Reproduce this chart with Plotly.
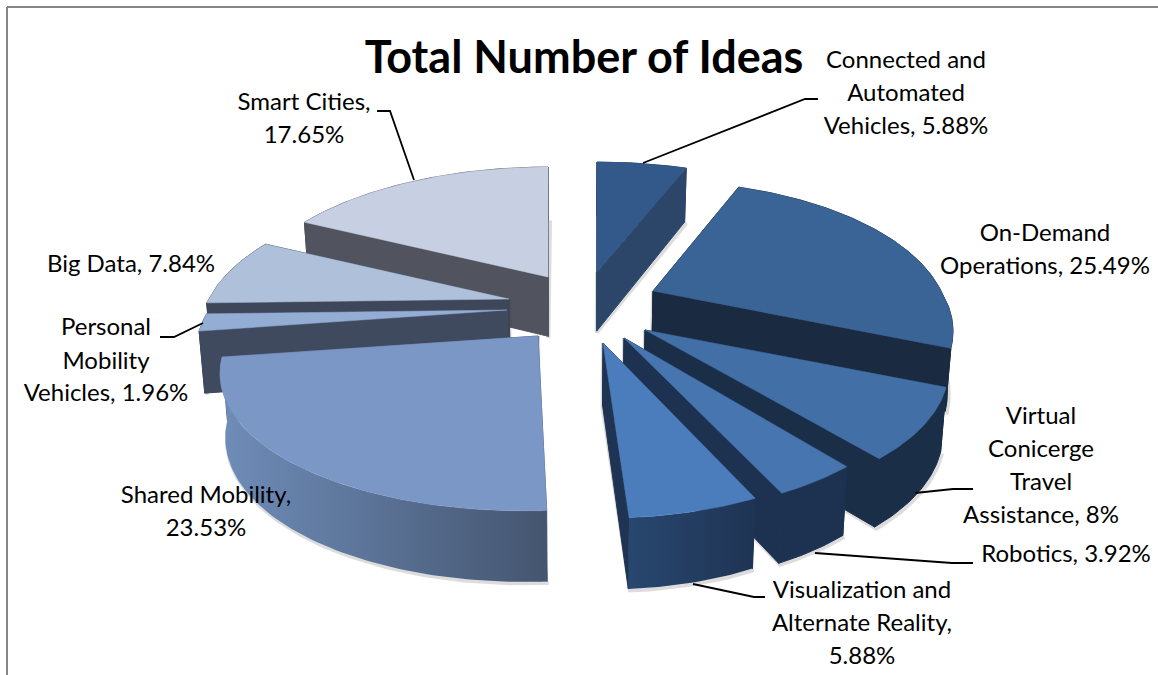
import numpy as np
import plotly.graph_objects as go

# Shares of ideas per topic, clockwise from twelve o'clock
categories = ["Connected and Automated Vehicles", "On-Demand Operations",
              "Virtual Conicerge Travel Assistance", "Robotics",
              "Visualization and Alternate Reality", "Shared Mobility",
              "Personal Mobility Vehicles", "Big Data", "Smart Cities"]
values = [5.88, 25.49, 8, 3.92, 5.88, 23.53, 1.96, 7.84, 17.65]

# Exploded offset of every slice from the pie centre, in pixels
pull_dx = [20, 76, 68, 47, 26, -39, -70, -68, -29]
pull_dy = [-40, -21, 18, 26, 31, 24, -2, -13, -35]
# Horizontal radius of every slice once foreshortened
slice_rx = [300, 288, 292, 283, 283, 307, 298, 300, 300]

top_colors = ["#33598A", "#3A6496", "#426FA5", "#4675B0", "#4B7DBC",
              "#7B97C5", "#93ADD4", "#AFC0DB", "#C7D0E2"]
wall_colors = ["#2B4668", "#1A2A40", "#1B2E48", "#1D3251", "#1F3453",
               "#52678A", "#3F4A5E", "#3D4759", "#51545E"]
# (left, right) of the outer wall's horizontal shading
wall_gradients = {4: ("#28476F", "#1F3453"), 5: ("#6F8DB9", "#44556F")}
draw_order = [8, 7, 6, 5, 0, 1, 2, 3, 4]

CX, CY = 577, 312
CAMERA_X = 585
RY, PERSPECTIVE = 135, 0.228
WALL_BASE, WALL_SLOPE, WALL_TAPER = 45.5, 0.05, 0.985

title_text = "Total Number of Ideas"
label_lines = [
    ("Connected and", 906, 61), ("Automated", 906, 94),
    (f"Vehicles, {values[0]:g}%", 906, 127),
    ("On-Demand", 1045, 234), (f"Operations, {values[1]:g}%", 1045, 267),
    ("Virtual", 1041, 417), ("Conicerge", 1041, 450), ("Travel", 1041, 483),
    (f"Assistance, {values[2]:g}%", 1041, 516),
    (f"Robotics, {values[3]:g}%", 1066, 555),
    ("Visualization and", 862, 591), ("Alternate Reality,", 862, 624),
    (f"{values[4]:g}%", 862, 657),
    ("Shared Mobility,", 206, 496), (f"{values[5]:g}%", 206, 529),
    ("Personal", 106, 328), ("Mobility", 106, 362),
    (f"Vehicles, {values[6]:g}%", 106, 394),
    (f"Big Data, {values[7]:g}%", 131, 265),
    ("Smart Cities,", 304, 103), (f"{values[8]:g}%", 304, 136),
]
leader_x = [[377, 390, 414], [818, 805, 643], [160, 174, 203],
            [973, 953, 915], [973, 952, 815], [765, 754, 693]]
leader_y = [[111, 111, 180], [99, 99, 163], [337, 337, 323],
            [489, 489, 493], [563, 563, 553], [597, 597, 584]]


def rim(theta, ax, ay, rx):
    """Perspective projection of a point on the disc's rim, relative to a slice apex."""
    x_world, y_world = np.sin(theta), -np.cos(theta)
    depth = 1 - PERSPECTIVE * y_world
    x = ax + rx * x_world / depth + (ax - CAMERA_X) * np.maximum(1 / depth - 1, 0)
    return x, ay + RY * y_world / depth


def drop(x, y):
    """Move a top-face point down to the underside of the pie."""
    x, y = np.asarray(x, float), np.asarray(y, float)
    return CX + (x - CX) * WALL_TAPER, y + WALL_BASE + WALL_SLOPE * y


def polygon(fig, x, y, color, name, gradient=None, edge=0.5):
    trace = dict(x=list(x), y=list(y), mode="lines", fill="toself", fillcolor=color,
                 line=dict(width=edge, color=color), hoverinfo="skip", name=name)
    if gradient:
        trace["fillgradient"] = dict(type="horizontal",
                                     colorscale=[[0, gradient[0]], [1, gradient[1]]])
        trace["line"] = dict(width=0)
    fig.add_trace(go.Scatter(**trace))


fig = go.Figure()
total = sum(values)
edges = np.radians(np.concatenate([[0], np.cumsum(values)]) / total * 360)

for i in draw_order:
    ax, ay = CX + pull_dx[i], CY + pull_dy[i]
    steps = max(8, int(values[i] * 4))
    thetas = np.linspace(edges[i], edges[i + 1], steps)
    arc_x, arc_y = rim(thetas, ax, ay, slice_rx[i])
    low_x, low_y = drop(arc_x, arc_y)
    apex_lx, apex_ly = drop(ax, ay)
    # soft contact shadow under the wall
    fig.add_trace(go.Scatter(x=list(np.r_[low_x + 1.5, apex_lx, ax]),
                             y=list(np.r_[low_y + 1.5, apex_ly + 1.5, ay]),
                             mode="lines", hoverinfo="skip", name=categories[i],
                             line=dict(color="rgba(60,60,60,0.18)", width=4)))
    # cut faces, then the outer wall, then the top face over them
    for k in (0, -1):
        polygon(fig, [ax, arc_x[k], low_x[k], apex_lx, ax],
                [ay, arc_y[k], low_y[k], apex_ly, ay], wall_colors[i], categories[i], edge=1)
    polygon(fig, np.r_[arc_x, low_x[::-1], arc_x[0]], np.r_[arc_y, low_y[::-1], arc_y[0]],
            wall_colors[i], categories[i], wall_gradients.get(i), edge=1)
    polygon(fig, np.r_[ax, arc_x, ax], np.r_[ay, arc_y, ay], top_colors[i], categories[i])

for lx, ly in zip(leader_x, leader_y):
    fig.add_trace(go.Scatter(x=lx, y=ly, mode="lines", hoverinfo="skip",
                             line=dict(color="#000000", width=1.8)))

fig.add_trace(go.Scatter(x=[t[1] for t in label_lines], y=[t[2] + 1 for t in label_lines],
                         text=[t[0] for t in label_lines], mode="text",
                         textposition="middle center", hoverinfo="skip",
                         textfont=dict(family="Lato", size=24, color="#000000")))
fig.add_trace(go.Scatter(x=[584], y=[62], text=[f"<b>{title_text}</b>"], mode="text",
                         textposition="middle center", hoverinfo="skip",
                         textfont=dict(family="Lato", size=45, color="#000000")))

# Chart-area border along the top and left
fig.add_shape(type="line", x0=7, x1=7, y0=7, y1=675, line=dict(color="#868686", width=2))
fig.add_shape(type="line", x0=7, x1=1158, y0=7, y1=7, line=dict(color="#868686", width=2))

fig.update_layout(width=1158, height=675, margin=dict(l=0, r=0, t=0, b=0),
                  paper_bgcolor="#FFFFFF", plot_bgcolor="#FFFFFF", showlegend=False,
                  xaxis=dict(range=[0, 1158], visible=False, fixedrange=True),
                  yaxis=dict(range=[675, 0], visible=False, fixedrange=True))
fig.write_html("out.html", config={"displayModeBar": False})
